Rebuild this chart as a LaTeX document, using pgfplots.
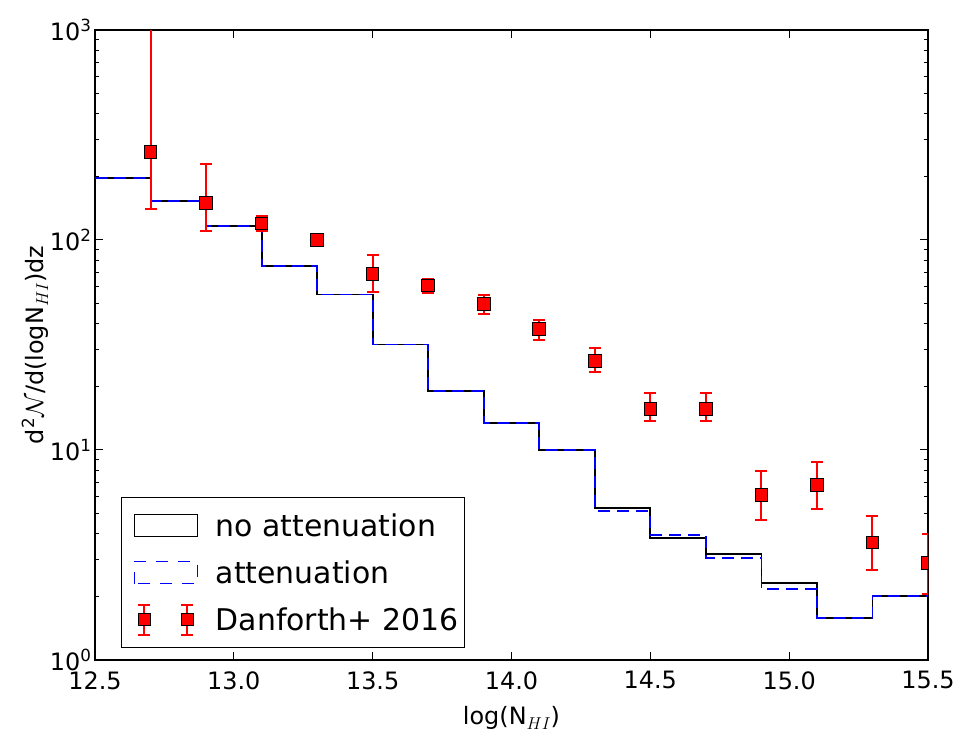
\documentclass[border=0pt]{standalone}
\usepackage{fontspec}
\setmainfont{DejaVu Sans}
\usepackage{pgfplots}
\pgfplotsset{compat=1.18}
\usepackage{pgfplotstable}

\pgfplotstableread{
x y
12.5 197
12.7 154
12.9 117
13.1 75
13.3 55
13.5 31.8
13.7 19.1
13.9 13.5
14.1 10.0
14.3 5.30
14.5 3.81
14.7 3.21
14.9 2.33
15.1 1.59
15.3 2.02
15.5 2.02
}\noatt

\pgfplotstableread{
x y
12.5 197
12.7 154
12.9 117
13.1 75
13.3 55
13.5 31.8
13.7 19.1
13.9 13.5
14.1 10.0
14.3 5.14
14.5 3.94
14.7 3.06
14.9 2.18
15.1 1.59
15.3 2.02
15.5 2.02
}\att

% Danforth+ 2016: value, lower and upper end of its error bar
\pgfplotstableread{
x y lo hi
12.7 262 141 1000
12.9 150 110 231
13.1 120 110 130
13.3 100 100 100
13.5 68.7 56.5 84.6
13.7 60.6 55.7 65.5
13.9 49.7 44.6 54.6
14.1 37.7 33.5 41.5
14.3 26.6 23.6 30.6
14.5 15.7 13.7 18.6
14.7 15.7 13.7 18.6
14.9 6.12 4.64 7.97
15.1 6.81 5.24 8.77
15.3 3.62 2.69 4.83
15.5 2.90 2.07 3.99
}\danf

% the same error bars as separate segments (lower end, upper end, gap)
\pgfplotstableread{
x y
12.7 141
12.7 1000
12.7 nan
12.9 110
12.9 231
12.9 nan
13.1 110
13.1 130
13.1 nan
13.5 56.5
13.5 84.6
13.5 nan
13.7 55.7
13.7 65.5
13.7 nan
13.9 44.6
13.9 54.6
13.9 nan
14.1 33.5
14.1 41.5
14.1 nan
14.3 23.6
14.3 30.6
14.3 nan
14.5 13.7
14.5 18.6
14.5 nan
14.7 13.7
14.7 18.6
14.7 nan
14.9 4.64
14.9 7.97
14.9 nan
15.1 5.24
15.1 8.77
15.1 nan
15.3 2.69
15.3 4.83
15.3 nan
15.5 2.07
15.5 3.99
}\danfbars

% upper caps (the first bar runs past the top of the axis: no cap shown)
\pgfplotstableread{
x hi
12.9 231
13.1 130
13.5 84.6
13.7 65.5
13.9 54.6
14.1 41.5
14.3 30.6
14.5 18.6
14.7 18.6
14.9 7.97
15.1 8.77
15.3 4.83
15.5 3.99
}\danfhi

\newcommand{\HIsub}[1]{\raisebox{-5bp}{\fontsize{#1}{#1}\selectfont$HI$}}

\begin{document}
\begin{tikzpicture}
\begin{axis}[
  at={(0,0)}, anchor=south west,
  scale only axis, width=833bp, height=630bp,
  ymode=log, xmin=12.5, xmax=15.5, ymin=1, ymax=1000,
  xtick={12.5,13,13.5,14,14.5,15,15.5},
  xticklabels={12.5,13.0,13.5,14.0,14.5,15.0,15.5},
  ytick={1,10,100,1000},
  yticklabels={10\textsuperscript{0},10\textsuperscript{1},10\textsuperscript{2},10\textsuperscript{3}},
  minor ytick={2,3,4,5,6,7,8,9,20,30,40,50,60,70,80,90,200,300,400,500,600,700,800,900},
  minor xtick={},
  tick align=inside,
  major tick length=8bp, minor tick length=4bp,
  every tick/.style={black, line width=1bp},
  axis line style={line width=1.2bp},
  tick label style={font=\fontsize{24}{28}\selectfont},
  xticklabel shift=8bp,
  yticklabel shift=0bp,
  label style={font=\fontsize{24}{29}\selectfont},
  xlabel={log(N\HIsub{19})},
  ylabel={d\textsuperscript{2}$\mathcal{N}$/d(logN\HIsub{18})dz},
  xlabel style={at={(axis description cs:0.5,-0.1016)}, anchor=base},
  ylabel style={at={(axis description cs:-0.072,0.5)}, anchor=center},
  unbounded coords=jump,
  clip marker paths=true,
  legend cell align=left,
  legend style={at={(axis description cs:0.0312,0.019)}, anchor=south west,
    font=\fontsize{30}{36}\selectfont, draw=black, line width=1.2bp,
    inner xsep=4bp, inner ysep=4bp, row sep=0bp, column sep=16bp},
]
\addplot[const plot, black, line width=1.8bp, forget plot] table[x=x,y=y] {\noatt};
\addplot[const plot, blue, line width=1.8bp, dash pattern=on 12bp off 7bp, forget plot] table[x=x,y=y] {\att};
% error bars
\addplot[red, line width=2bp, no marks, forget plot] table[x=x, y=y] {\danfbars};
\addplot[only marks, mark=-, mark size=6bp, mark options={red, line width=2bp, solid}, forget plot]
  table[x=x, y=lo] {\danf};
\addplot[only marks, mark=-, mark size=6bp, mark options={red, line width=2bp, solid}, forget plot]
  table[x=x, y=hi] {\danfhi};
% data points
\addplot[only marks, mark=square*, mark size=6.3bp,
  mark options={fill=red, draw=black, line width=1bp, solid}, forget plot]
  table[x=x, y=y] {\danf};
\addlegendimage{legend image code/.code={
  \path (0bp,-23bp) (0bp,23bp);
  \draw[black, line width=1.2bp] (8bp,-11bp) rectangle (71bp,11bp);}}
\addlegendentry{no attenuation}
\addlegendimage{legend image code/.code={
  \path (0bp,-23bp) (0bp,23bp);
  \draw[blue, line width=1.2bp, dash pattern=on 12bp off 10bp] (8bp,-11bp) rectangle (71bp,11bp);}}
\addlegendentry{attenuation}
\addlegendimage{legend image code/.code={
  \path (0bp,-23bp) (0bp,23bp);
  \draw[red, line width=1.5bp] (18bp,-15bp)--(18bp,15bp) (12bp,-15bp)--(24bp,-15bp) (12bp,15bp)--(24bp,15bp);
  \draw[red, line width=1.5bp] (61bp,-15bp)--(61bp,15bp) (55bp,-15bp)--(67bp,-15bp) (55bp,15bp)--(67bp,15bp);
  \draw[black, fill=red, line width=1bp] (12bp,-6bp) rectangle (24bp,6bp);
  \draw[black, fill=red, line width=1bp] (55bp,-6bp) rectangle (67bp,6bp);}}
\addlegendentry{Danforth+ 2016}
\end{axis}
\path (-95bp,-72bp) rectangle (864bp,660bp);
\end{tikzpicture}
\end{document}
